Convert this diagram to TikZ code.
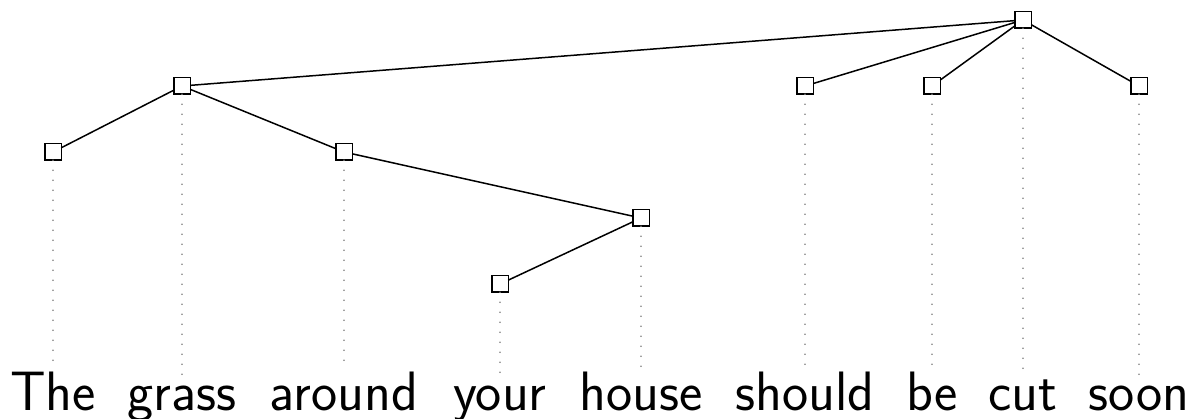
\documentclass[tikz,border=0pt]{standalone}
\usepackage{fontspec}
\begin{document}
\begin{tikzpicture}[x=1pt,y=-1pt,
  treenode/.style={draw=black,fill=white,line width=1.5pt,minimum size=16.5pt,inner sep=0pt,outer sep=0pt},
  edge/.style={draw=black,line width=1.5pt},
  guide/.style={draw=gray,line width=1.6pt,line cap=round,dash pattern=on 0pt off 10pt},
  word/.style={anchor=base,inner sep=0pt,outer sep=4pt,font=\sffamily\fontsize{55.5}{60}\selectfont}]
\useasboundingbox (0,0) rectangle (1193,419);
% tree nodes
\node[treenode] (root) at (1023,20) {};
\node[treenode] (grass) at (182,86) {};
\node[treenode] (should) at (805,86) {};
\node[treenode] (be) at (932,86) {};
\node[treenode] (soon) at (1139,86) {};
\node[treenode] (the) at (53,152) {};
\node[treenode] (around) at (344,152) {};
\node[treenode] (house) at (641,218) {};
\node[treenode] (your) at (500,284) {};
% words
\node[word] (wthe) at (53,410) {The};
\node[word] (wgrass) at (182,410) {grass};
\node[word] (waround) at (344,410) {around};
\node[word] (wyour) at (500,410) {your};
\node[word] (whouse) at (641,410) {house};
\node[word] (wshould) at (805,410) {should};
\node[word] (wbe) at (932,410) {be};
\node[word] (wcut) at (1023,410) {cut};
\node[word] (wsoon) at (1139,410) {soon};
% guides
\draw[guide] (the.south) -- (wthe.north);
\draw[guide] (grass.south) -- (wgrass.north);
\draw[guide] (around.south) -- (waround.north);
\draw[guide] (your.south) -- (wyour.north);
\draw[guide] (house.south) -- (whouse.north);
\draw[guide] (should.south) -- (wshould.north);
\draw[guide] (be.south) -- (wbe.north);
\draw[guide] (root.south) -- (wcut.north);
\draw[guide] (soon.south) -- (wsoon.north);
% edges
\draw[edge] (root) -- (grass);
\draw[edge] (root) -- (should);
\draw[edge] (root) -- (be);
\draw[edge] (root) -- (soon);
\draw[edge] (grass) -- (the);
\draw[edge] (grass) -- (around);
\draw[edge] (around) -- (house);
\draw[edge] (house) -- (your);
\end{tikzpicture}
\end{document}
